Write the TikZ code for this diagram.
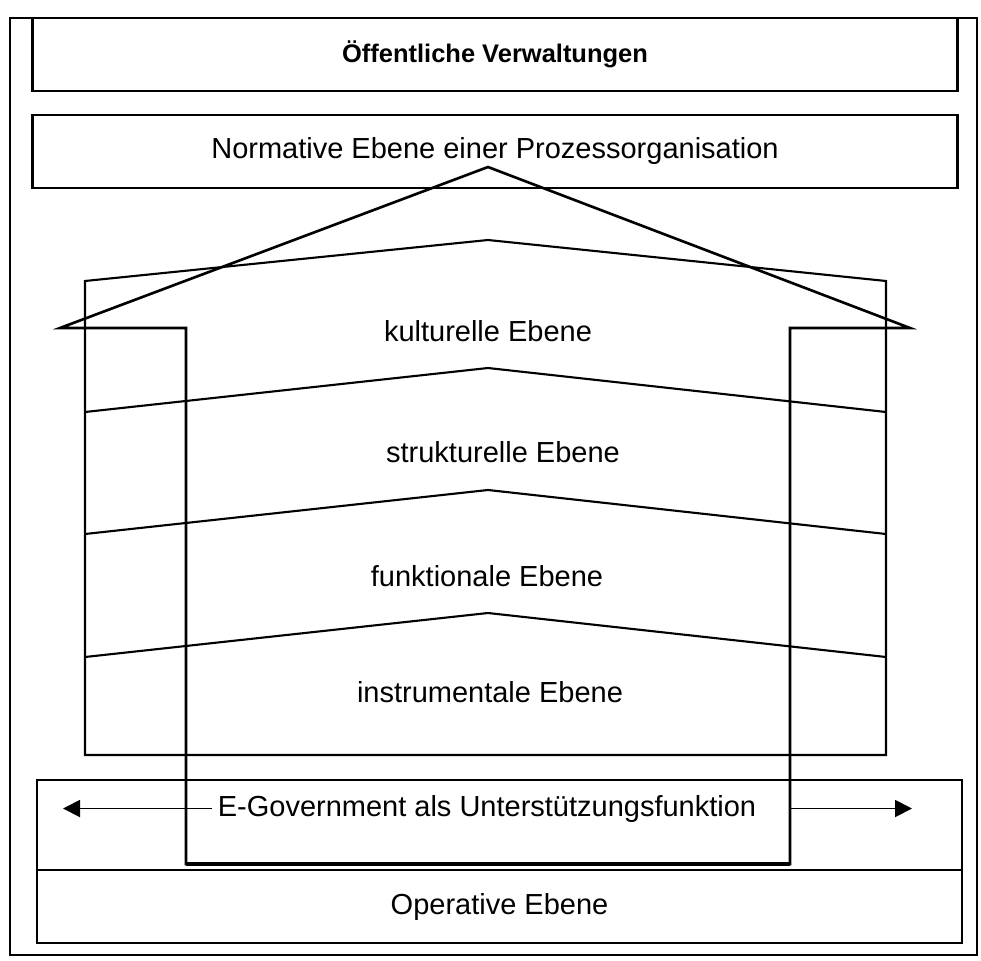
\documentclass[tikz,border=0pt]{standalone}
\usepackage{fontspec}
\setmainfont{Liberation Sans}
\usepackage{tikz}
\usetikzlibrary{calc,positioning,arrows.meta}
\tikzstyle{ebene} = [rectangle, draw=black, line width=1.4pt, minimum width=185mm, minimum height=14.6mm, inner sep=0pt, text centered]
\tikzstyle{schrift} = [font=\fontsize{16.5}{19}\selectfont, inner sep=0pt]
\tikzstyle{haus} = [line width=1.5pt, line join=miter]
\tikzstyle{arrow} = [-{Triangle[length=3.4mm,width=3.4mm]}, line width=1.1pt]

\begin{document}
\begin{tikzpicture}[x=0.2mm, y=-0.2mm]
      \useasboundingbox (0,0) rectangle (981,961);
      %Rahmen
      \draw[line width=1.1pt] (10,18) rectangle (977,955);
      %Kaesten oben und unten
      \node[ebene, font=\bfseries\fontsize{14.5}{17}\selectfont](verwaltung) at (495,54.5) {Öffentliche Verwaltungen};
      \node[ebene, schrift](normativ) at (495,151.5) {Normative Ebene einer Prozessorganisation};
      \node[ebene, minimum height=18mm](egovbox) at (499.5,825) {};
      \node[ebene, schrift](operativ) at (499.5,906.5) {Operative Ebene};
      %Gebaeude mit den Ebenen
      \draw[line width=1.2pt] (85,281) -- (488,240) -- (886,281) -- (886,755) -- (85,755) -- cycle;
      \foreach \y in {412,534,657}
        \draw[line width=1.2pt] (85,\y) -- (488,\y-44) -- (886,\y);
      \node[schrift](kulturell) at (488,331) {kulturelle Ebene};
      \node[schrift](strukturell) at (503,452) {strukturelle Ebene};
      \node[schrift](funktional) at (487,576) {funktionale Ebene};
      \node[schrift](instrumental) at (490,692) {instrumentale Ebene};
      %Haus
      \coordinate (saeuleL) at (186,864);
      \coordinate (saeuleR) at (790,864);
      \draw[haus] (60,328) -- (488,167) -- (910,328) -- (saeuleR |- 0,328) -- (saeuleR) -- (saeuleL) -- (saeuleL |- 0,328) -- cycle;
      \draw[haus, line width=2.2pt] (saeuleL) -- (saeuleR);
      %E-Government
      \node[schrift, anchor=base](egov) at (487,816) {E-Government als Unterstützungsfunktion};
      \coordinate (pfeilL) at (63,805);
      \coordinate (pfeilR) at (912,805);
      \draw[arrow] ([xshift=-1.2mm]egov.west) -- (egov.west -| pfeilL);
      \draw[arrow] (egov.east -| saeuleR) -- (egov.east -| pfeilR);
\end{tikzpicture}
\end{document}
